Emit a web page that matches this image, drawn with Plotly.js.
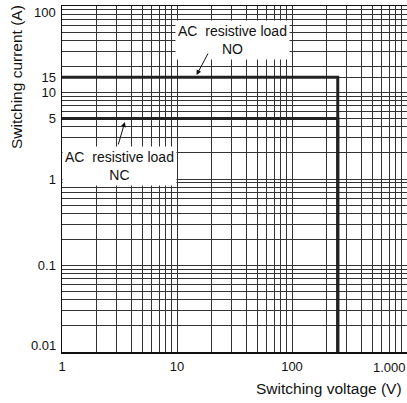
<!DOCTYPE html>
<html><head>
<script src="https://cdn.plot.ly/plotly-3.0.1.min.js"></script>
<style>body{margin:0;background:#fff}</style>
</head><body>
<div id="c" style="width:407px;height:403px"></div>
<script>
// Data
const noVoltage = [1, 250, 250];
const noCurrent = [15, 15, 0.01];
const ncVoltage = [1, 250, 250];
const ncCurrent = [5, 5, 0.01];
const xTickVals = [1, 10, 100, 1000];
const xTickText = ['1', '10', '100', '1.000'];
const yTickVals = [0.01, 0.1, 1, 5, 10, 15, 100];
const yTickText = ['0.01', '0.1', '1', '5', '10', '15', '100'];
const noLabel = 'AC  resistive load<br>NO';
const ncLabel = 'AC  resistive load<br>NC';

const FONT = 'Liberation Sans, Arial, sans-serif';
const L = v => Math.log10(v);
const tickFont = {family: FONT, size: 13, color: '#111'};

const lineStyle = {color: '#222', width: 3};
const traces = [
  {x: noVoltage, y: noCurrent, mode: 'lines', line: lineStyle, hoverinfo: 'skip', name: 'NO'},
  {x: ncVoltage, y: ncCurrent, mode: 'lines', line: lineStyle, hoverinfo: 'skip', name: 'NC'}
];

// edge tick labels (first/last) are drawn as annotations, nudged inward as in the reference
const xInner = xTickVals.slice(0, -1), xInnerText = xTickText.slice(0, -1);
const yInner = yTickVals.slice(1, -1), yInnerText = yTickText.slice(1, -1);

const axisCommon = {
  type: 'log',
  showgrid: true, gridcolor: '#333', gridwidth: 1,
  minor: {dtick: 'D1', showgrid: true, gridcolor: '#333', gridwidth: 1, ticks: ''},
  showline: true, linecolor: '#111', linewidth: 1.5, mirror: true,
  ticks: '', zeroline: false,
  tickfont: tickFont,
  tickmode: 'array'
};

const layout = {
  width: 407, height: 403,
  margin: {l: 62, r: 0, t: 6, b: 51},
  paper_bgcolor: '#fff', plot_bgcolor: '#fff',
  showlegend: false,
  xaxis: Object.assign({}, axisCommon, {range: [0, 3], tickvals: xInner, ticktext: xInnerText, ticklabelstandoff: 2}),
  yaxis: Object.assign({}, axisCommon, {range: [-2, 2], tickvals: yInner, ticktext: yInnerText, ticklabelstandoff: 2}),
  annotations: [
    {xref: 'x', yref: 'y', x: L(30.5), y: L(40.5), text: noLabel, showarrow: false,
     bgcolor: '#fff', font: {family: FONT, size: 14, color: '#111'}, borderpad: 2},
    {xref: 'x', yref: 'y', x: L(14.8), y: L(15.9), axref: 'x', ayref: 'y', ax: L(18.9), ay: L(29.4),
     text: '', showarrow: true, arrowhead: 2, arrowsize: 1, arrowwidth: 1, arrowcolor: '#111'},
    {xref: 'x', yref: 'y', x: L(3.18), y: L(1.41), text: ncLabel, showarrow: false,
     bgcolor: '#fff', font: {family: FONT, size: 14, color: '#111'}, borderpad: 2},
    {xref: 'x', yref: 'y', x: L(3.52), y: L(4.56), axref: 'x', ayref: 'y', ax: L(3.06), ay: L(2.41),
     text: '', showarrow: true, arrowhead: 2, arrowsize: 1, arrowwidth: 1, arrowcolor: '#111'},
    // edge tick labels
    {xref: 'paper', yref: 'y', x: 0, y: L(yTickVals[yTickVals.length - 1]), xanchor: 'right', yanchor: 'middle',
     xshift: -4, yshift: -6, text: yTickText[yTickText.length - 1], showarrow: false, font: tickFont},
    {xref: 'paper', yref: 'y', x: 0, y: L(yTickVals[0]), xanchor: 'right', yanchor: 'middle',
     xshift: -4, yshift: 7, text: yTickText[0], showarrow: false, font: tickFont},
    {xref: 'x', yref: 'paper', x: L(xTickVals[xTickVals.length - 1]), y: 0, xanchor: 'right', yanchor: 'middle',
     xshift: 1, yshift: -15, text: xTickText[xTickText.length - 1], showarrow: false, font: tickFont},
    // axis titles
    {xref: 'paper', yref: 'paper', x: 1, y: 0, xshift: -3, yshift: -36, xanchor: 'right', yanchor: 'middle',
     text: 'Switching voltage (V)', showarrow: false, font: {family: FONT, size: 15.5, color: '#111'}},
    {xref: 'paper', yref: 'paper', x: 0, xshift: -46, y: 1, yshift: 3, yanchor: 'top', xanchor: 'center',
     text: 'Switching current (A)', textangle: -90, showarrow: false, font: {family: FONT, size: 15.5, color: '#111'}}
  ]
};

Plotly.newPlot('c', traces, layout, {staticPlot: true, displayModeBar: false});
</script>
</body></html>
